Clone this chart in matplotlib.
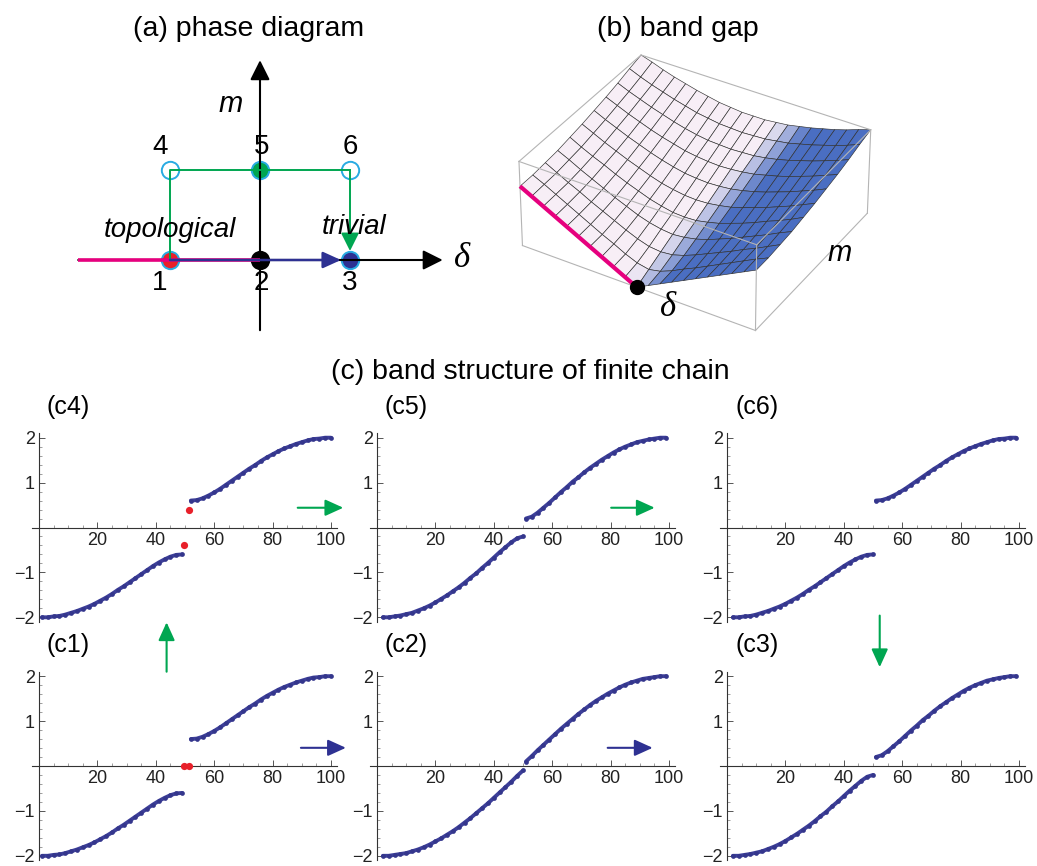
import numpy as np
import matplotlib
matplotlib.use('Agg')
import matplotlib.pyplot as plt
from matplotlib.ticker import MultipleLocator
from matplotlib.colors import to_rgba

plt.rcParams['font.family'] = ['Liberation Sans', 'DejaVu Sans']

W, H = 1037, 866

# ---------------- data: (a) phase diagram ----------------
point_delta = [-1, 0, 1, -1, 0, 1]
point_m = [0, 0, 0, 1, 1, 1]
point_labels = ['1', '2', '3', '4', '5', '6']
point_face = ['#e8202a', '#000000', '#2e3192', 'none', '#00a651', 'none']
point_edge = ['#29abe2', '#000000', '#29abe2', '#29abe2', '#29abe2', '#29abe2']
path_delta = [-1, -1, 1]
path_m = [0, 1, 1]
topo_delta = [-2.02, 0]

# ---------------- data: (b) band gap surface ----------------
gap_delta = [-1.0, -0.9, -0.8, -0.7, -0.6, -0.5, -0.4, -0.3, -0.2, -0.1, 0.0,
             0.1, 0.2, 0.3, 0.4, 0.5, 0.6, 0.7, 0.8, 0.9, 1.0]
gap_m = [0.0, 0.1, 0.2, 0.3, 0.4, 0.5, 0.6, 0.7, 0.8, 0.9, 1.0]
gap_values = [
    [1.00, 0.90, 0.80, 0.70, 0.60, 0.50, 0.40, 0.30, 0.20, 0.10, 0.00, 0.10, 0.20, 0.30, 0.40, 0.50, 0.60, 0.70, 0.80, 0.90, 1.00],
    [1.00, 0.91, 0.81, 0.71, 0.61, 0.51, 0.41, 0.32, 0.22, 0.14, 0.10, 0.14, 0.22, 0.32, 0.41, 0.51, 0.61, 0.71, 0.81, 0.91, 1.00],
    [1.02, 0.92, 0.82, 0.73, 0.63, 0.54, 0.45, 0.36, 0.28, 0.22, 0.20, 0.22, 0.28, 0.36, 0.45, 0.54, 0.63, 0.73, 0.82, 0.92, 1.02],
    [1.04, 0.95, 0.85, 0.76, 0.67, 0.58, 0.50, 0.42, 0.36, 0.32, 0.30, 0.32, 0.36, 0.42, 0.50, 0.58, 0.67, 0.76, 0.85, 0.95, 1.04],
    [1.08, 0.98, 0.89, 0.81, 0.72, 0.64, 0.57, 0.50, 0.45, 0.41, 0.40, 0.41, 0.45, 0.50, 0.57, 0.64, 0.72, 0.81, 0.89, 0.98, 1.08],
    [1.12, 1.03, 0.94, 0.86, 0.78, 0.71, 0.64, 0.58, 0.54, 0.51, 0.50, 0.51, 0.54, 0.58, 0.64, 0.71, 0.78, 0.86, 0.94, 1.03, 1.12],
    [1.17, 1.08, 1.00, 0.92, 0.85, 0.78, 0.72, 0.67, 0.63, 0.61, 0.60, 0.61, 0.63, 0.67, 0.72, 0.78, 0.85, 0.92, 1.00, 1.08, 1.17],
    [1.22, 1.14, 1.06, 0.99, 0.92, 0.86, 0.81, 0.76, 0.73, 0.71, 0.70, 0.71, 0.73, 0.76, 0.81, 0.86, 0.92, 0.99, 1.06, 1.14, 1.22],
    [1.28, 1.20, 1.13, 1.06, 1.00, 0.94, 0.89, 0.85, 0.82, 0.81, 0.80, 0.81, 0.82, 0.85, 0.89, 0.94, 1.00, 1.06, 1.13, 1.20, 1.28],
    [1.35, 1.27, 1.20, 1.14, 1.08, 1.03, 0.98, 0.95, 0.92, 0.91, 0.90, 0.91, 0.92, 0.95, 0.98, 1.03, 1.08, 1.14, 1.20, 1.27, 1.35],
    [1.41, 1.35, 1.28, 1.22, 1.17, 1.12, 1.08, 1.04, 1.02, 1.00, 1.00, 1.00, 1.02, 1.04, 1.08, 1.12, 1.17, 1.22, 1.28, 1.35, 1.41],
]

# ---------------- data: (c) band structures ----------------
n_low_edge = list(range(1, 50, 2))
n_up_edge = list(range(52, 101, 2))
n_low_bulk = list(range(2, 51, 2))
n_up_bulk = list(range(51, 100, 2))
edge_n = [49.6, 51.2]

lower_gap_large = [-2.00, -2.00, -1.98, -1.97, -1.94, -1.90, -1.86, -1.81, -1.76, -1.70, -1.63, -1.56, -1.48,
                   -1.39, -1.31, -1.22, -1.13, -1.04, -0.95, -0.86, -0.78, -0.71, -0.65, -0.61, -0.60]
upper_gap_large = [0.60, 0.61, 0.65, 0.71, 0.78, 0.86, 0.95, 1.04, 1.13, 1.22, 1.31, 1.39, 1.48,
                   1.56, 1.63, 1.70, 1.76, 1.81, 1.86, 1.90, 1.94, 1.97, 1.98, 2.00, 2.00]
lower_gap_small = [-2.00, -2.00, -1.98, -1.96, -1.93, -1.90, -1.85, -1.80, -1.74, -1.67, -1.59, -1.51, -1.42,
                   -1.33, -1.23, -1.12, -1.02, -0.90, -0.79, -0.67, -0.55, -0.44, -0.33, -0.24, -0.20]
upper_gap_small = [0.20, 0.24, 0.33, 0.44, 0.55, 0.67, 0.79, 0.90, 1.02, 1.12, 1.23, 1.33, 1.42,
                   1.51, 1.59, 1.67, 1.74, 1.80, 1.85, 1.90, 1.93, 1.96, 1.98, 2.00, 2.00]
lower_gapless = [-2.00, -2.00, -1.98, -1.96, -1.94, -1.90, -1.86, -1.81, -1.75, -1.68, -1.61, -1.53, -1.45,
                 -1.36, -1.26, -1.16, -1.05, -0.94, -0.83, -0.71, -0.59, -0.47, -0.35, -0.22, -0.10]
upper_gapless = [0.10, 0.22, 0.35, 0.47, 0.59, 0.71, 0.83, 0.94, 1.05, 1.16, 1.26, 1.36, 1.45,
                 1.53, 1.61, 1.68, 1.75, 1.81, 1.86, 1.90, 1.94, 1.96, 1.98, 2.00, 2.00]
edge_c4 = [-0.38, 0.38]
edge_c1 = [0.0, 0.0]

x_ticks = [20, 40, 60, 80, 100]
y_ticks = [-2, -1, 1, 2]

# ---------------- colors ----------------
GREEN = '#00a651'
NAVY = '#2e3192'
MAGENTA = '#e6007e'
BAND = '#3d3f99'
RED = '#e8202a'


def fx(px):
    return px / W


def fy(py):
    return 1 - py / H


fig = plt.figure(figsize=(W / 100, H / 100), dpi=100)

# ======================= (b) band gap (drawn first, underneath) =======================
ax3 = fig.add_axes([460 / W, fy(424), 460 / W, 460 / H], projection='3d', computed_zorder=False)
ax3.patch.set_visible(False)
D, M = np.meshgrid(gap_delta, gap_m)
Z = np.array(gap_values)
t = np.clip((D - 0.3 * M) / 0.3 + 0.4, 0, 1)[..., None]
light = np.array(to_rgba('#f7eef6'))
blue = np.array(to_rgba('#4a6ec2'))
fc = light * (1 - t) + blue * t
ax3.plot_surface(D, M, Z, facecolors=fc, edgecolor='#303030', linewidth=0.45,
                 shade=False, rstride=1, cstride=1, antialiased=True, zorder=1)
dl, dh = gap_delta[0], gap_delta[-1]
ml, mh = gap_m[0], gap_m[-1]
zl, zh = 0.0, float(Z.max())
edges = [((dl, ml, zh), (dh, ml, zh)), ((dl, mh, zh), (dh, mh, zh)),
         ((dl, ml, zh), (dl, mh, zh)), ((dh, ml, zh), (dh, mh, zh)),
         ((dl, ml, zl), (dl, ml, zh)), ((dh, ml, zl), (dh, ml, zh)), ((dh, mh, zl), (dh, mh, zh)),
         ((dl, ml, zl), (dh, ml, zl)), ((dh, ml, zl), (dh, mh, zl))]
for a, b in edges:
    ax3.plot([a[0], b[0]], [a[1], b[1]], [a[2], b[2]], color='#b4b4b4', lw=0.8, zorder=2)
ax3.plot(gap_delta[:11], [gap_m[0]] * 11, gap_values[0][:11], color=MAGENTA, lw=3, zorder=3,
         solid_capstyle='butt')
ax3.plot([0], [0], [0], 'o', color='black', ms=10, zorder=4)
ax3.set_xlim(dl, dh)
ax3.set_ylim(ml, mh)
ax3.set_zlim(zl, zh)
ax3.set_proj_type('persp', focal_length=1.2)
ax3.view_init(elev=35, azim=-59)
ax3.set_box_aspect((2.85, 2.4, 1.08), zoom=0.775)
ax3.set_axis_off()
fig.text(fx(678), fy(35.5), '(b) band gap', ha='center', va='baseline', fontsize=20.5)
fig.text(fx(668), fy(307), 'δ', ha='center', va='center', fontsize=25, style='italic',
         family=['Liberation Serif', 'DejaVu Serif'])
fig.text(fx(840), fy(253), 'm', ha='center', va='center', fontsize=21, style='italic')

# ======================= (a) phase diagram =======================
fig.text(fx(249), fy(35.5), '(a) phase diagram', ha='center', va='baseline', fontsize=20.5)
axa = fig.add_axes([fx(60), fy(340), 420 / W, 300 / H])
axa.set_xlim((60 - 260) / 90, (480 - 260) / 90)
axa.set_ylim((260 - 340) / 90, (260 - 40) / 90)
axa.axis('off')


def arr(ax, start, end, color, lw, hl, hw, shrinkB=0, z=5):
    ax.annotate('', xy=end, xytext=start, xycoords='data', textcoords='data',
                arrowprops=dict(arrowstyle=f'-|>,head_length={hl},head_width={hw}',
                                mutation_scale=1, color=color, lw=lw,
                                shrinkA=0, shrinkB=shrinkB),
                annotation_clip=False, zorder=z)


for d, m, fcol, ecol in zip(point_delta, point_m, point_face, point_edge):
    axa.plot([d], [m], 'o', ms=12.5, mfc=fcol, mec=ecol, mew=1.4, zorder=2)

arr(axa, (-2.02, 0), (2.03, 0), 'black', 1.5, 12, 6, z=3)
arr(axa, (0, -0.78), (0, 2.22), 'black', 1.5, 12, 6, z=3)
axa.plot(topo_delta, [0, 0], color=MAGENTA, lw=2.6, zorder=4, solid_capstyle='butt')
axa.plot(path_delta, path_m, color=GREEN, lw=1.4, zorder=4)
arr(axa, (path_delta[-1], path_m[-1]), (point_delta[2], point_m[2]), GREEN, 1.4, 11, 5.5, shrinkB=6.5, z=5)
arr(axa, (point_delta[0], point_m[0]), (point_delta[2], point_m[2]), NAVY, 1.8, 11, 5, shrinkB=6.5, z=5)

for d, m, lab in zip(point_delta, point_m, point_labels):
    dy = 0.26 if m > 0 else -0.26
    dx = -0.11 if d < 0 else 0.02 if d == 0 else 0.0
    axa.text(d + dx, m + dy, lab, ha='center', va='center', fontsize=20, zorder=6)

axa.text(-1.0, 0.33, 'topological', ha='center', va='center', fontsize=20, style='italic', zorder=6)
axa.text(1.04, 0.37, 'trivial', ha='center', va='center', fontsize=20, style='italic', zorder=6)
axa.text(-0.33, 1.73, 'm', ha='center', va='center', fontsize=21, style='italic', zorder=6)
axa.text(2.24, 0.02, 'δ', ha='center', va='center', fontsize=25, style='italic',
         family=['Liberation Serif', 'DejaVu Serif'], zorder=6)

# ======================= (c) band structures =======================
fig.text(fx(530), fy(379), '(c) band structure of finite chain', ha='center', va='baseline', fontsize=20.5)

cols_x0 = [39, 377, 727]
rows_y0 = [527.5, 766]
sx, sy = 2.92, 44.9
xlim = (-2.4, 102.2)
ylim = (-2.1, 2.1)


def panel_ax(col, row):
    x0, y0 = cols_x0[col], rows_y0[row]
    left = x0 + xlim[0] * sx
    right = x0 + xlim[1] * sx
    top = y0 - ylim[1] * sy
    bottom = y0 - ylim[0] * sy
    ax = fig.add_axes([left / W, 1 - bottom / H, (right - left) / W, (bottom - top) / H])
    ax.set_xlim(*xlim)
    ax.set_ylim(*ylim)
    ax.patch.set_alpha(0)
    for s in ['top', 'right']:
        ax.spines[s].set_visible(False)
    ax.spines['left'].set_position(('data', 0))
    ax.spines['bottom'].set_position(('data', 0))
    for s in ['left', 'bottom']:
        ax.spines[s].set_color('#333333')
        ax.spines[s].set_linewidth(0.8)
    ax.set_xticks(x_ticks)
    ax.set_yticks(y_ticks)
    ax.xaxis.set_minor_locator(MultipleLocator(5))
    ax.yaxis.set_minor_locator(MultipleLocator(0.2))
    ax.tick_params(which='major', direction='in', length=4, width=0.7, color='#555555',
                   labelsize=13, labelcolor='#222222', pad=3)
    ax.tick_params(which='minor', direction='in', length=2, width=0.5, color='#777777')
    return ax


panels = [
    ('(c4)', 0, 0, n_low_edge, lower_gap_large, n_up_edge, upper_gap_large, edge_c4),
    ('(c5)', 1, 0, n_low_bulk, lower_gap_small, n_up_bulk, upper_gap_small, None),
    ('(c6)', 2, 0, n_low_bulk, lower_gap_large, n_up_bulk, upper_gap_large, None),
    ('(c1)', 0, 1, n_low_edge, lower_gap_large, n_up_edge, upper_gap_large, edge_c1),
    ('(c2)', 1, 1, n_low_bulk, lower_gapless, n_up_bulk, upper_gapless, None),
    ('(c3)', 2, 1, n_low_bulk, lower_gap_small, n_up_bulk, upper_gap_small, None),
]

axes_c = {}
for name, col, row, nl, vl, nu, vu, edge in panels:
    ax = panel_ax(col, row)
    axes_c[name] = ax
    for n, v in ((nl, vl), (nu, vu)):
        ax.plot(n, v, '-', color=BAND, lw=2.8, solid_capstyle='round', zorder=3, clip_on=False)
        ax.plot(n, v, 'o', color='#34368c', ms=3.4, mew=0, zorder=3, clip_on=False)
    if edge is not None:
        ax.plot(edge_n, edge, 'o', color=RED, ms=5.2, mew=0, zorder=4, clip_on=False)
    fig.text(fx(cols_x0[col] + 8), fy(rows_y0[row] - 114), name, ha='left', va='baseline', fontsize=18)

arr(axes_c['(c4)'], (88.6, 0.44), (104.2, 0.44), GREEN, 1.5, 11, 5)
arr(axes_c['(c5)'], (80.2, 0.44), (95.1, 0.44), GREEN, 1.5, 11, 5)
arr(axes_c['(c1)'], (43.7, 2.1), (43.7, 3.2), GREEN, 1.5, 11, 5)
arr(axes_c['(c3)'], (52.3, 3.35), (52.3, 2.2), GREEN, 1.5, 11, 5)
arr(axes_c['(c1)'], (89.7, 0.405), (105.1, 0.405), NAVY, 1.5, 11, 5)
arr(axes_c['(c2)'], (79.0, 0.405), (94.4, 0.405), NAVY, 1.5, 11, 5)

fig.savefig('out.png', dpi=100)
